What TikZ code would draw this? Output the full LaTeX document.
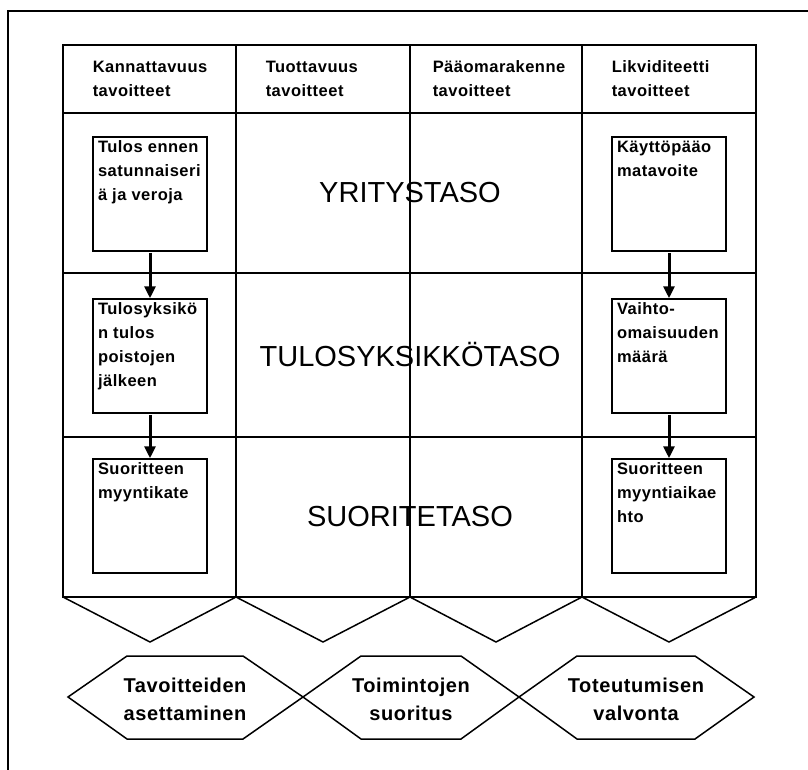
\documentclass[tikz,border=0pt]{standalone}
\usepackage{fontspec}
\setmainfont{Liberation Sans}
\newfontfamily\spacedfont[LetterSpace=3]{Liberation Sans}
\usetikzlibrary{arrows.meta}

\begin{document}
\begin{tikzpicture}[x=1pt, y=-1pt, line width=1.5pt,
    head/.style={anchor=west, align=left, inner sep=0pt, font=\spacedfont\bfseries\fontsize{16.5}{24}\selectfont},
    goalbox/.style={draw, minimum width=114pt, minimum height=114pt, inner sep=0pt},
    boxtext/.style={anchor=north west, align=left, inner sep=0pt, xshift=5pt, yshift=-4pt, font=\spacedfont\bfseries\fontsize{16.5}{24}\selectfont},
    level/.style={inner sep=0pt, font=\fontsize{29}{34}\selectfont},
    phase/.style={align=center, inner sep=0pt, font=\spacedfont\bfseries\fontsize{20}{28}\selectfont},
    flow/.style={-{Triangle[width=11pt,length=12pt]}, line width=3pt, shorten <=1pt}]
    \useasboundingbox (0,0) rectangle (808,770);
    \draw (8,780) -- (8,11) -- (815,11);

    \draw (63,45) rectangle (756,597);
    \foreach \x in {236,410,582}
        \draw (\x,45) -- (\x,597);
    \foreach \y in {113,273,437}
        \draw (63,\y) -- (756,\y);
    \draw (63,597) \foreach \a/\b in {150/236,323/410,496/582,669/756} { -- (\a,642) -- (\b,597) };

    \node[head] (kann) at (92,79) {Kannattavuus\\tavoitteet};
    \node[head] (tuot) at (265,79) {Tuottavuus\\tavoitteet};
    \node[head] (paao) at (432,79) {Pääomarakenne\\tavoitteet};
    \node[head] (likv) at (611,79) {Likviditeetti\\tavoitteet};

    \node[level] (yritys) at (410,193) {YRITYSTASO};
    \node[level] (tulos) at (410,355) {TULOSYKSIKKÖTASO};
    \node[level] (suorite) at (410,517) {SUORITETASO};

    \node[goalbox] (k1) at (150,194) {};
    \node[goalbox] (k2) at (150,356) {};
    \node[goalbox] (k3) at (150,516) {};
    \node[goalbox] (l1) at (669,194) {};
    \node[goalbox] (l2) at (669,356) {};
    \node[goalbox] (l3) at (669,516) {};

    \node[boxtext] (k1t) at (k1.north west) {Tulos ennen\\satunnaiseri\\ä ja veroja};
    \node[boxtext] (k2t) at (k2.north west) {Tulosyksikö\\n tulos\\poistojen\\jälkeen};
    \node[boxtext] (k3t) at (k3.north west) {Suoritteen\\myyntikate};
    \node[boxtext] (l1t) at (l1.north west) {Käyttöpääo\\matavoite};
    \node[boxtext] (l2t) at (l2.north west) {Vaihto-\\omaisuuden\\määrä};
    \node[boxtext] (l3t) at (l3.north west) {Suoritteen\\myyntiaikae\\hto};

    \draw[flow] (k1) -- (k2);
    \draw[flow] (k2) -- (k3);
    \draw[flow] (l1) -- (l2);
    \draw[flow] (l2) -- (l3);

    \draw (68,697) -- (127,656) -- (243,656) -- (303,697) -- (243,739) -- (127,739) -- cycle;
    \draw (303,697) -- (361,656) -- (461,656) -- (519,697) -- (461,739) -- (361,739) -- cycle;
    \draw (519,697) -- (577,656) -- (695,656) -- (754,697) -- (695,739) -- (577,739) -- cycle;

    \node[phase] (asetus) at (185,699) {Tavoitteiden\\asettaminen};
    \node[phase] (suoritus) at (411,699) {Toimintojen\\suoritus};
    \node[phase] (valvonta) at (636,699) {Toteutumisen\\valvonta};
\end{tikzpicture}
\end{document}
